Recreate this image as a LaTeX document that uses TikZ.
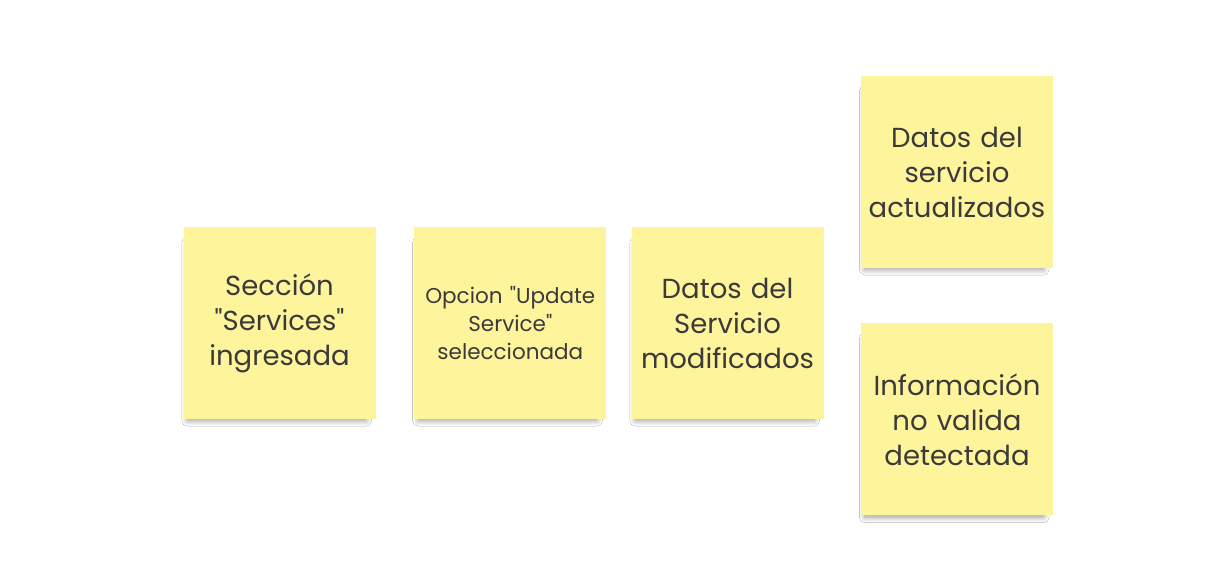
\documentclass[tikz,border=0pt]{standalone}
\usepackage{fontspec}
\setmainfont{Poppins}[Ligatures=TeXOff]
\usetikzlibrary{shadows.blur}
\definecolor{notefill}{HTML}{FEF49C}
\definecolor{notetext}{HTML}{3A3A3A}
\tikzset{
  note/.style={rectangle, fill=notefill, minimum width=192pt, minimum height=192pt,
    inner sep=0pt, text width=188pt, align=center, text=notetext,
    font=\fontsize{27.5}{35}\selectfont,
    blur shadow={shadow xshift=-3pt, shadow yshift=-9pt, shadow blur steps=14, shadow blur radius=6pt, shadow opacity=40, shadow scale=0.93}},
  smallnote/.style={note, font=\fontsize{21.5}{28}\selectfont}
}
\begin{document}
\begin{tikzpicture}[x=1pt,y=1pt]
\useasboundingbox (0,0) rectangle (1207,580);
\fill[white] (0,0) rectangle (1207,580);
\node[note] (n1) at (279.5,257) {Sección\\"Services"\\ingresada};
\node[smallnote] (n2) at (510.3,257) {Opcion "Update\\Service"\\seleccionada};
\node[note] (n3) at (727.5,257) {Datos del\\Servicio\\modificados};
\node[note] (n4) at (957,408) {Datos del\\servicio\\actualizados};
\node[note] (n5) at (957,160.5) {Información\\no valida\\detectada};
\end{tikzpicture}
\end{document}
